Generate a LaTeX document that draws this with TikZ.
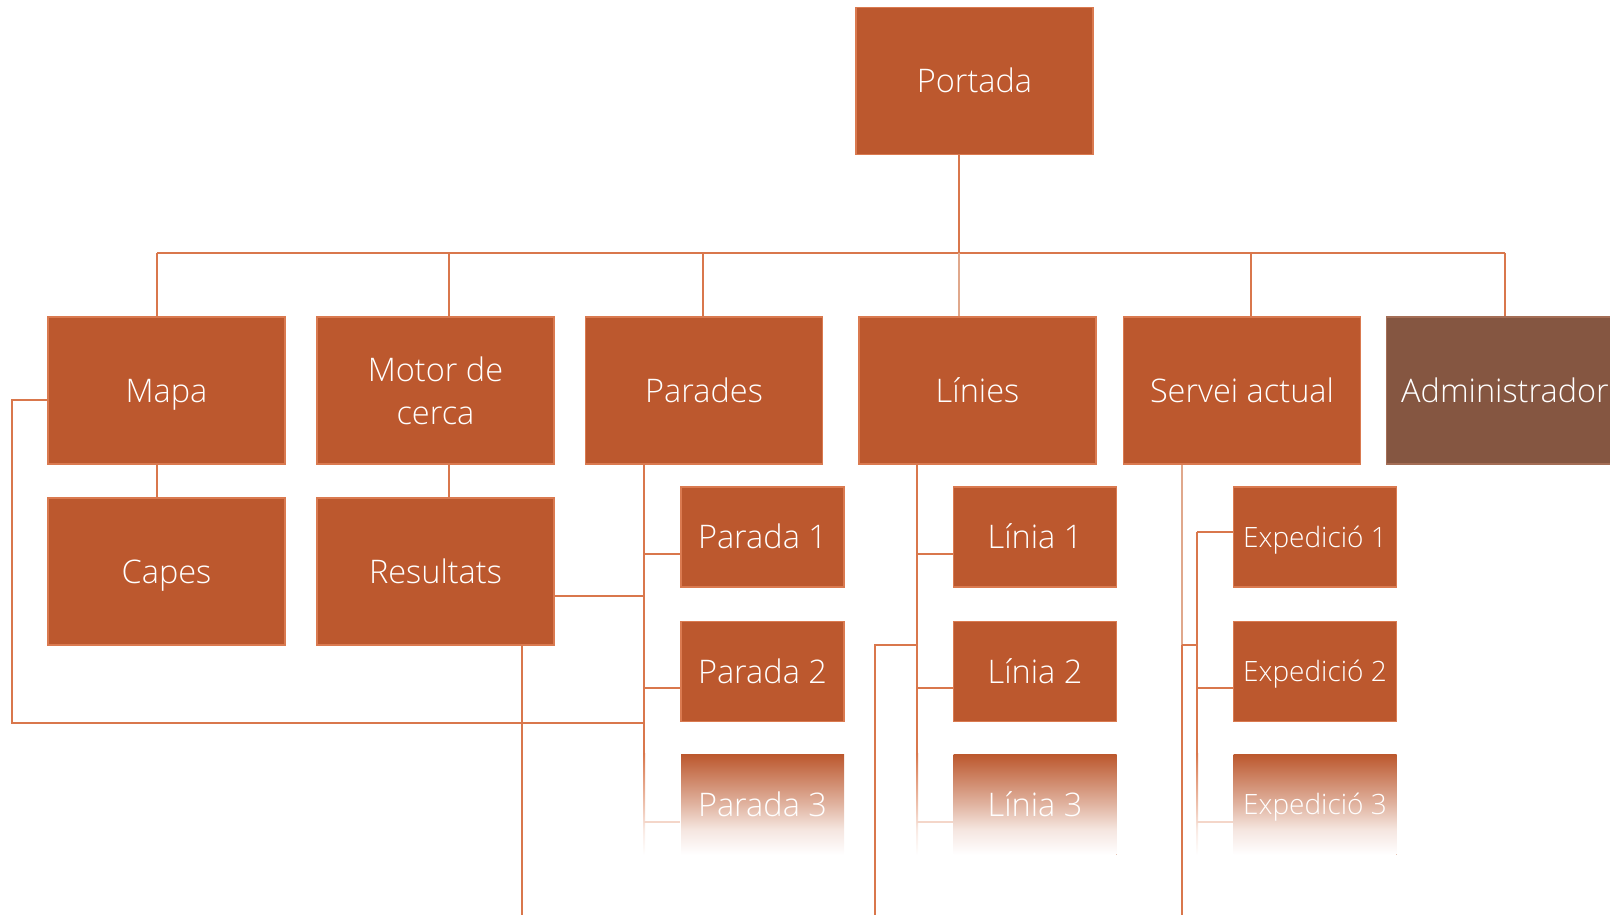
\documentclass[tikz,border=0pt]{standalone}
\usepackage{fontspec}
\IfFontExistsTF{Open Sans Light}{\setmainfont{Open Sans Light}}{\setmainfont{Open Sans}}
\definecolor{boxfill}{HTML}{BC582E}
\definecolor{boxline}{HTML}{DA7A50}
\definecolor{wirec}{HTML}{D9774C}
\definecolor{wirelightc}{HTML}{E0A88C}
\definecolor{adminfill}{HTML}{855641}
\definecolor{adminline}{HTML}{A46E56}
% vanishing boxes and wires at the bottom of each column
\pgfdeclareverticalshading{leaffade}{100bp}{color(0bp)=(white); color(25bp)=(white);
  color(37.5bp)=(boxfill!15!white); color(50bp)=(boxfill!45!white);
  color(75bp)=(boxfill); color(100bp)=(boxfill)}
\pgfdeclareverticalshading{wirefadesh}{100bp}{color(0bp)=(white); color(25bp)=(white);
  color(37.5bp)=(wirec!15!white); color(50bp)=(wirec!45!white);
  color(75bp)=(wirec); color(100bp)=(wirec)}
\tikzset{
  boxbase/.style={draw=boxline, line width=1.5pt, fill=boxfill, text=white,
    minimum width=237pt, minimum height=147pt, inner sep=0pt, align=center,
    font=\fontsize{32.5}{43}\selectfont},
  box/.style={boxbase, text height=23.2pt, text depth=0pt},
  leaf/.style={box, minimum width=163pt, minimum height=100pt},
  leafsmall/.style={leaf, font=\fontsize{28}{34}\selectfont, text height=20pt},
  fadeleaf/.style={draw=none, shading=leaffade},
  adminbox/.style={box, fill=adminfill, draw=adminline},
  wire/.style={draw=wirec, line width=2pt},
  wirelight/.style={draw=wirelightc, line width=2pt},
  wirepale/.style={draw=wirec!30!white, line width=2pt},
  wirefade/.style={shading=wirefadesh, draw=none},
}
\begin{document}
\begin{tikzpicture}[x=1pt,y=-1pt]
\useasboundingbox (0,0) rectangle (1610,915);
\clip (0,0) rectangle (1610,915);

% top level
\node[box] (portada) at (974.5,81) {Portada};

% second level
\node[box] (mapa)    at (166.5,390.5) {Mapa};
\node[boxbase] (motor) at (435.5,390.5) {Motor de\\cerca};
\node[box] (parades) at (704,390.5)   {Parades};
\node[box] (linies)  at (977.5,390.5) {Línies};
\node[box] (servei)  at (1242,390.5)  {Servei actual};
\node[adminbox] (admin) at (1505,390.5) {Administrador};

% third level
\node[box] (capes)     at (166.5,571.5) {Capes};
\node[box] (resultats) at (435.5,571.5) {Resultats};

\node[leaf] (parada1) at (762.5,537)   {Parada 1};
\node[leaf] (parada2) at (762.5,671.5) {Parada 2};
\node[leaf, fadeleaf] (parada3) at (762.5,804.5) {Parada 3};

\node[leaf] (linia1) at (1035,537)   {Línia 1};
\node[leaf] (linia2) at (1035,671.5) {Línia 2};
\node[leaf, fadeleaf] (linia3) at (1035,804.5) {Línia 3};

\node[leafsmall] (exp1) at (1315,537)   {Expedició 1};
\node[leafsmall] (exp2) at (1315,671.5) {Expedició 2};
\node[leafsmall, fadeleaf] (exp3) at (1315,804.5) {Expedició 3};

% bus under the top box
\coordinate (jmapa)    at (157,252.7);
\coordinate (jmotor)   at (449,252.7);
\coordinate (jparades) at (703,252.7);
\coordinate (jlinies)  at (959,252.7);
\coordinate (jservei)  at (1250.6,252.7);
\coordinate (jadmin)   at (1505,252.7);

\draw[wire] (jmapa) -- (jadmin);
\draw[wire] (portada.south -| jlinies) -- (jlinies);
\draw[wirelight] (jlinies) -- (jlinies |- linies.north);
\foreach \j/\n in {jmapa/mapa, jmotor/motor, jparades/parades, jservei/servei, jadmin/admin}
  \draw[wire] (\j) -- (\j |- \n.north);

\draw[wire] (mapa.south -| jmapa) -- (capes.north -| jmapa);
\draw[wire] (motor.south -| jmotor) -- (resultats.north -| jmotor);

% Parades spine and branches
\coordinate (pspine) at (644,0);
\draw[wire] (parades.south -| pspine) -- (parada3.north -| pspine);
\shade[wirefade] ([xshift=-1pt]parada3.north -| pspine) rectangle ([xshift=1pt]parada3.south -| pspine);
\coordinate (p1b) at ([yshift=-16.5pt]parada1.west);
\coordinate (p2b) at ([yshift=-16.2pt]parada2.west);
\coordinate (p3b) at ([yshift=-17.2pt]parada3.west);
\draw[wire] (p1b -| pspine) -- (p1b);
\draw[wire] (p2b -| pspine) -- (p2b);
\draw[wirepale] (p3b -| pspine) -- (p3b);

% Mapa loop into the Parades spine
\coordinate (mapaw) at ([yshift=-9.5pt]mapa.west);
\coordinate (loopx) at (12.3,723.3);
\draw[wire] (mapaw) -| (loopx) -- (loopx -| pspine);

% Resultats links
\coordinate (rese) at ([yshift=-24.5pt]resultats.east);
\draw[wire] (rese) -- (rese -| pspine);
\coordinate (resd) at (522,915);
\draw[wire] (resultats.south -| resd) -- (resd);

% Línies spine and branches
\coordinate (lspine) at (917,0);
\draw[wire] (linies.south -| lspine) -- (linia3.north -| lspine);
\shade[wirefade] ([xshift=-1pt]linia3.north -| lspine) rectangle ([xshift=1pt]linia3.south -| lspine);
\coordinate (l1b) at ([yshift=-16.5pt]linia1.west);
\coordinate (l2b) at ([yshift=-16.2pt]linia2.west);
\coordinate (l3b) at ([yshift=-17.2pt]linia3.west);
\draw[wire] (l1b -| lspine) -- (l1b);
\draw[wire] (l2b -| lspine) -- (l2b);
\draw[wirepale] (l3b -| lspine) -- (l3b);
\coordinate (lx) at (875,645);
\draw[wire] (lx -| lspine) -- (lx) -- (lx |- resd);

% Servei actual spines and branches
\coordinate (sspine) at (1182,645);
\coordinate (ispine) at (1197,0);
\draw[wirelight] (servei.south -| sspine) -- (sspine);
\draw[wire] (sspine) -- (sspine |- resd);
\draw[wire] (sspine) -- (sspine -| ispine);
\coordinate (e1b) at ([yshift=5.3pt]exp1.west);
\coordinate (e2b) at ([yshift=-16.8pt]exp2.west);
\coordinate (e3b) at ([yshift=-17.2pt]exp3.west);
\draw[wire] (e1b -| ispine) -- (exp3.north -| ispine);
\shade[wirefade] ([xshift=-1pt]exp3.north -| ispine) rectangle ([xshift=1pt]exp3.south -| ispine);
\draw[wire] (e1b -| ispine) -- (e1b);
\draw[wire] (e2b -| ispine) -- (e2b);
\draw[wirepale] (e3b -| ispine) -- (e3b);
\end{tikzpicture}
\end{document}
